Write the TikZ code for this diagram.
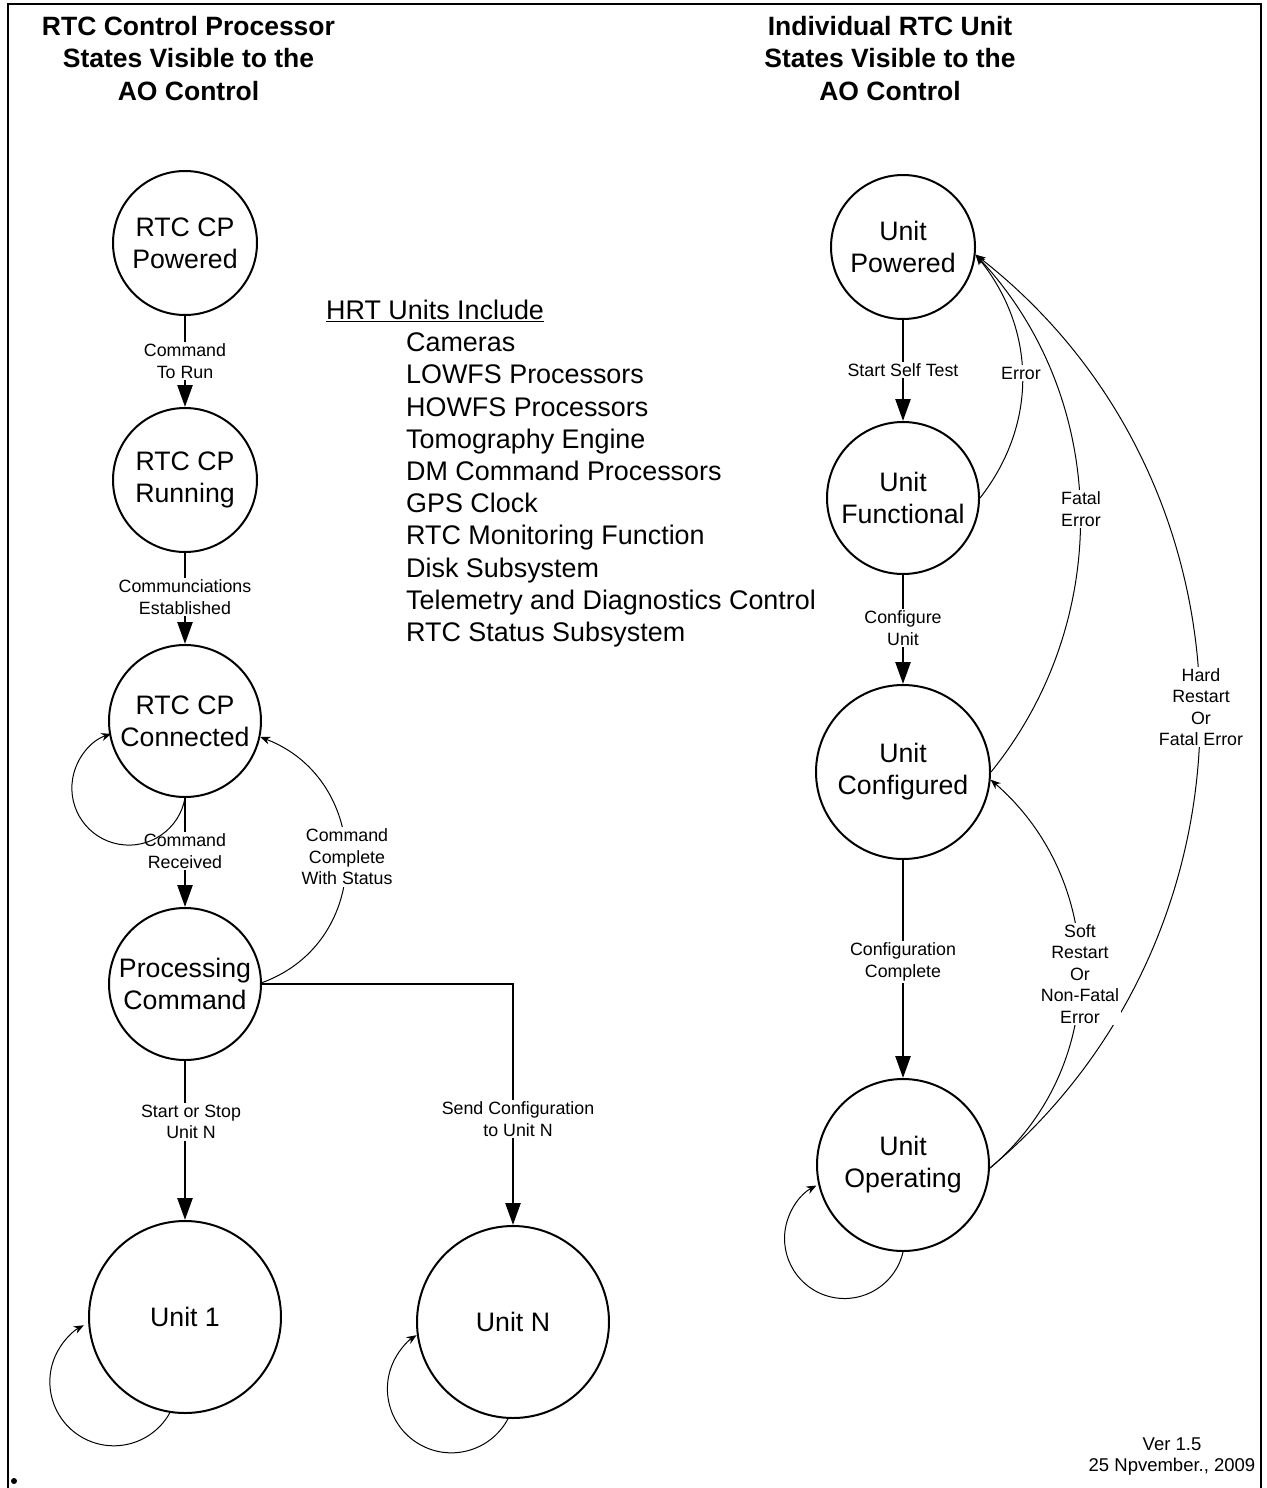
\documentclass[tikz,border=0pt]{standalone}
\usepackage{fontspec}
\setmainfont{Liberation Sans}
\usetikzlibrary{arrows.meta}
\begin{document}
\begin{tikzpicture}[x=1pt,y=1pt,
  state/.style={circle, draw, line width=2pt, inner sep=0pt, align=center,
    font=\fontsize{26.7}{32}\selectfont},
  flow/.style={line width=2.5pt, -{Triangle[width=15pt,length=22pt]}},
  trans/.style={line width=1pt, -{Stealth[width=8pt,length=10pt]}},
  lbl/.style={fill=white, inner sep=1.5pt, align=center,
    font=\fontsize{17.8}{21.5}\selectfont},
  heading/.style={align=center, font=\bfseries\fontsize{26.5}{32.5}\selectfont},
  unititem/.style={anchor=base west, inner sep=0pt, font=\fontsize{26.9}{32}\selectfont}
]
\useasboundingbox (0,0) rectangle (1266,-1488);

% frame
\draw[line width=2.5pt] (8,-1488) -- (8,-4) -- (1261,-4) -- (1261,-1488);
\fill (14,-1481) circle (3);

% headings
\node[heading] (tl) at (188.5,-58.5) {RTC Control Processor\\States Visible to the\\AO Control};
\node[heading] (tr) at (890,-58.5) {Individual RTC Unit\\States Visible to the\\AO Control};

% control processor states
\node[state, minimum size=144pt] (pow)  at (185,-243)  {RTC CP\\Powered};
\node[state, minimum size=144pt] (run)  at (185,-480)  {RTC CP\\Running};
\node[state, minimum size=152pt] (conn) at (185,-721)  {RTC CP\\Connected};
\node[state, minimum size=152pt] (proc) at (185,-984)  {Processing\\Command};
\node[state, minimum size=192pt] (u1)   at (185,-1317) {Unit 1};
\node[state, minimum size=192pt] (uN)   at (513,-1322) {Unit N};

% unit states
\node[state, minimum size=144pt] (upow) at (903,-247)  {Unit\\Powered};
\node[state, minimum size=152pt] (func) at (903,-498)  {Unit\\Functional};
\node[state, minimum size=174pt] (conf) at (903,-772)  {Unit\\Configured};
\node[state, minimum size=172pt] (op)   at (903,-1165) {Unit\\Operating};

% main flow
\draw[flow] (pow) -- (run);
\draw[flow] (run) -- (conn);
\draw[flow] (conn) -- (proc);
\draw[flow] (proc) -- (u1);
\draw[flow] (proc.east) -| (uN.north);
\draw[flow] (upow) -- (func);
\draw[flow] (func) -- (conf);
\draw[flow] (conf) -- (op);

% return transitions
\draw[trans] (proc.1) to[out=20, in=-21, looseness=1.25] (conn.-12);
\draw[trans] (func.0) to[out=52, in=-51] (upow.-6);
\draw[trans] (conf.0) to[out=51, in=-47, looseness=0.97] (upow.-6);
\draw[trans] (op.-2) to[out=40, in=-38, looseness=1.04] (upow.-6);
\draw[trans] (op.-2) to[out=40, in=-41, looseness=1.03] (conf.-5);

% transition labels
\node[lbl] (l1) at (185,-361) {Command\\To Run};
\node[lbl] (l2) at (185,-597) {Communciations\\Established};
\node[lbl] (l3) at (185,-851) {Command\\Received};
\node[lbl] (l4) at (191,-1122) {Start or Stop\\Unit N};
\node[lbl] (l5) at (518,-1119) {Send Configuration\\to Unit N};
\node[lbl] (l6) at (347,-857) {Command\\Complete\\With Status};
\node[lbl] (l7) at (903,-370) {Start Self Test};
\node[lbl] (l8) at (903,-628) {Configure\\Unit};
\node[lbl] (l9) at (903,-962) {Configuration\\Complete};
\node[lbl] (l10) at (1021,-373) {Error};
\node[lbl] (l11) at (1081,-509) {Fatal\\Error};
\node[lbl] (l12) at (1201,-707) {Hard\\Restart\\Or\\Fatal Error};
\node[lbl] (l13) at (1080,-974) {Soft\\Restart\\Or\\Non-Fatal\\Error};

% self loops
\draw[trans] (conn.-90) arc[start angle=-10, end angle=-252, radius=57];
\draw[trans] (u1.-99) arc[start angle=-29, end angle=-242, radius=64];
\draw[trans] (uN.-93) arc[start angle=-28, end angle=-237, radius=64];
\draw[trans] (op.-90) arc[start angle=-13, end angle=-242, radius=60];

% unit list
\node[unititem] (h0) at (326,-319.5) {\underline{HRT Units Include}};
\foreach \txt [count=\i] in {Cameras, LOWFS Processors, HOWFS Processors,
    Tomography Engine, DM Command Processors, GPS Clock,
    RTC Monitoring Function, Disk Subsystem,
    Telemetry and Diagnostics Control, RTC Status Subsystem}
  \node[unititem] (h\i) at (406,{-319.5-32.2*\i}) {\txt};

% version note
\node[align=center, inner sep=0pt, font=\fontsize{18.5}{21}\selectfont] (ver)
  at (1172,-1457) {Ver 1.5\\25 Npvember., 2009};
\end{tikzpicture}
\end{document}
